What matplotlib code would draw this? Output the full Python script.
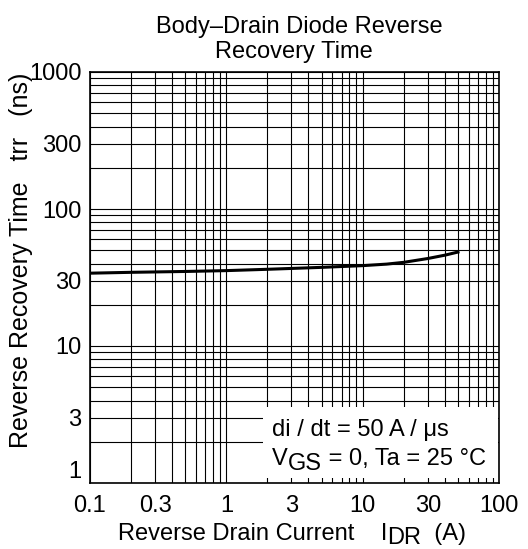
import matplotlib.pyplot as plt
import matplotlib.patches as mpatches
from matplotlib.ticker import LogLocator, NullFormatter

plt.rcParams['font.family'] = ['Liberation Sans', 'DejaVu Sans']

# reverse drain current (A) vs reverse recovery time (ns)
idr = [0.1, 0.2, 0.5, 1, 2, 5, 10, 15, 20, 30, 40, 50]
trr = [34.0, 34.5, 35.0, 35.5, 36.3, 37.5, 38.6, 39.6, 40.8, 43.5, 46.0, 48.5]

x_ticks = [0.1, 0.3, 1, 3, 10, 30, 100]
x_labels = ['0.1', '0.3', '1', '3', '10', '30', '100']
y_ticks = [1, 3, 10, 30, 100, 300, 1000]
y_labels = ['1', '3', '10', '30', '100', '300', '1000']

W, H = 528, 549
FS = 17

fig = plt.figure(figsize=(W / 100, H / 100), dpi=100)
ax = fig.add_axes([90 / W, 1 - 483 / H, 409 / W, 411 / H])
renderer = fig.canvas.get_renderer()


def put(x, y, s, size=FS, **kw):
    # place text using pixel coords measured from top-left
    return fig.text(x / W, 1 - y / H, s, fontsize=size, **kw)


def chain(x, y, parts):
    # draw text pieces one after another, each with its own baseline shift
    for s, dy in parts:
        t = put(x, y + dy, s, va='baseline', ha='left', zorder=6)
        x = t.get_window_extent(renderer).x1


ax.set_xscale('log')
ax.set_yscale('log')
ax.set_xlim(0.1, 100)
ax.set_ylim(1, 1000)

ax.xaxis.set_minor_locator(LogLocator(base=10, subs=range(2, 10)))
ax.yaxis.set_minor_locator(LogLocator(base=10, subs=range(2, 10)))
ax.xaxis.set_minor_formatter(NullFormatter())
ax.yaxis.set_minor_formatter(NullFormatter())
ax.grid(which='both', color='black', linewidth=0.8)

ax.set_xticks(x_ticks)
ax.set_xticklabels(x_labels)
ax.set_yticks(y_ticks)
ax.set_yticklabels(y_labels)
ax.tick_params(which='both', length=0, labelsize=FS)
ax.tick_params(axis='x', pad=9)
ax.tick_params(axis='y', pad=6)
ax.get_yticklabels()[0].set_va('bottom')

for s in ax.spines.values():
    s.set_linewidth(1.2)

ax.plot(idr, trr, color='black', linewidth=2.2, zorder=3)

# white box behind the test conditions
box = mpatches.Rectangle((0.423, 0.012), 0.574, 0.173, transform=ax.transAxes,
                         facecolor='white', edgecolor='none', zorder=4)
ax.add_patch(box)
chain(272, 436, [('di / dt = 50 A / μs', 0)])
chain(272, 465, [('V', 0), ('GS', 5), (' = 0, Ta = 25 °C', 0)])

# title
put(299, 33, 'Body–Drain Diode Reverse', ha='center', va='baseline')
put(294, 58, 'Recovery Time', ha='center', va='baseline')

# axis labels
chain(118, 540, [('Reverse Drain Current    I', 0), ('DR', 4), ('  (A)', 0)])
put(21, 260, 'Reverse Recovery Time   trr   (ns)', size=18, rotation=90,
    ha='center', va='center')

fig.savefig('out.png', dpi=100)
